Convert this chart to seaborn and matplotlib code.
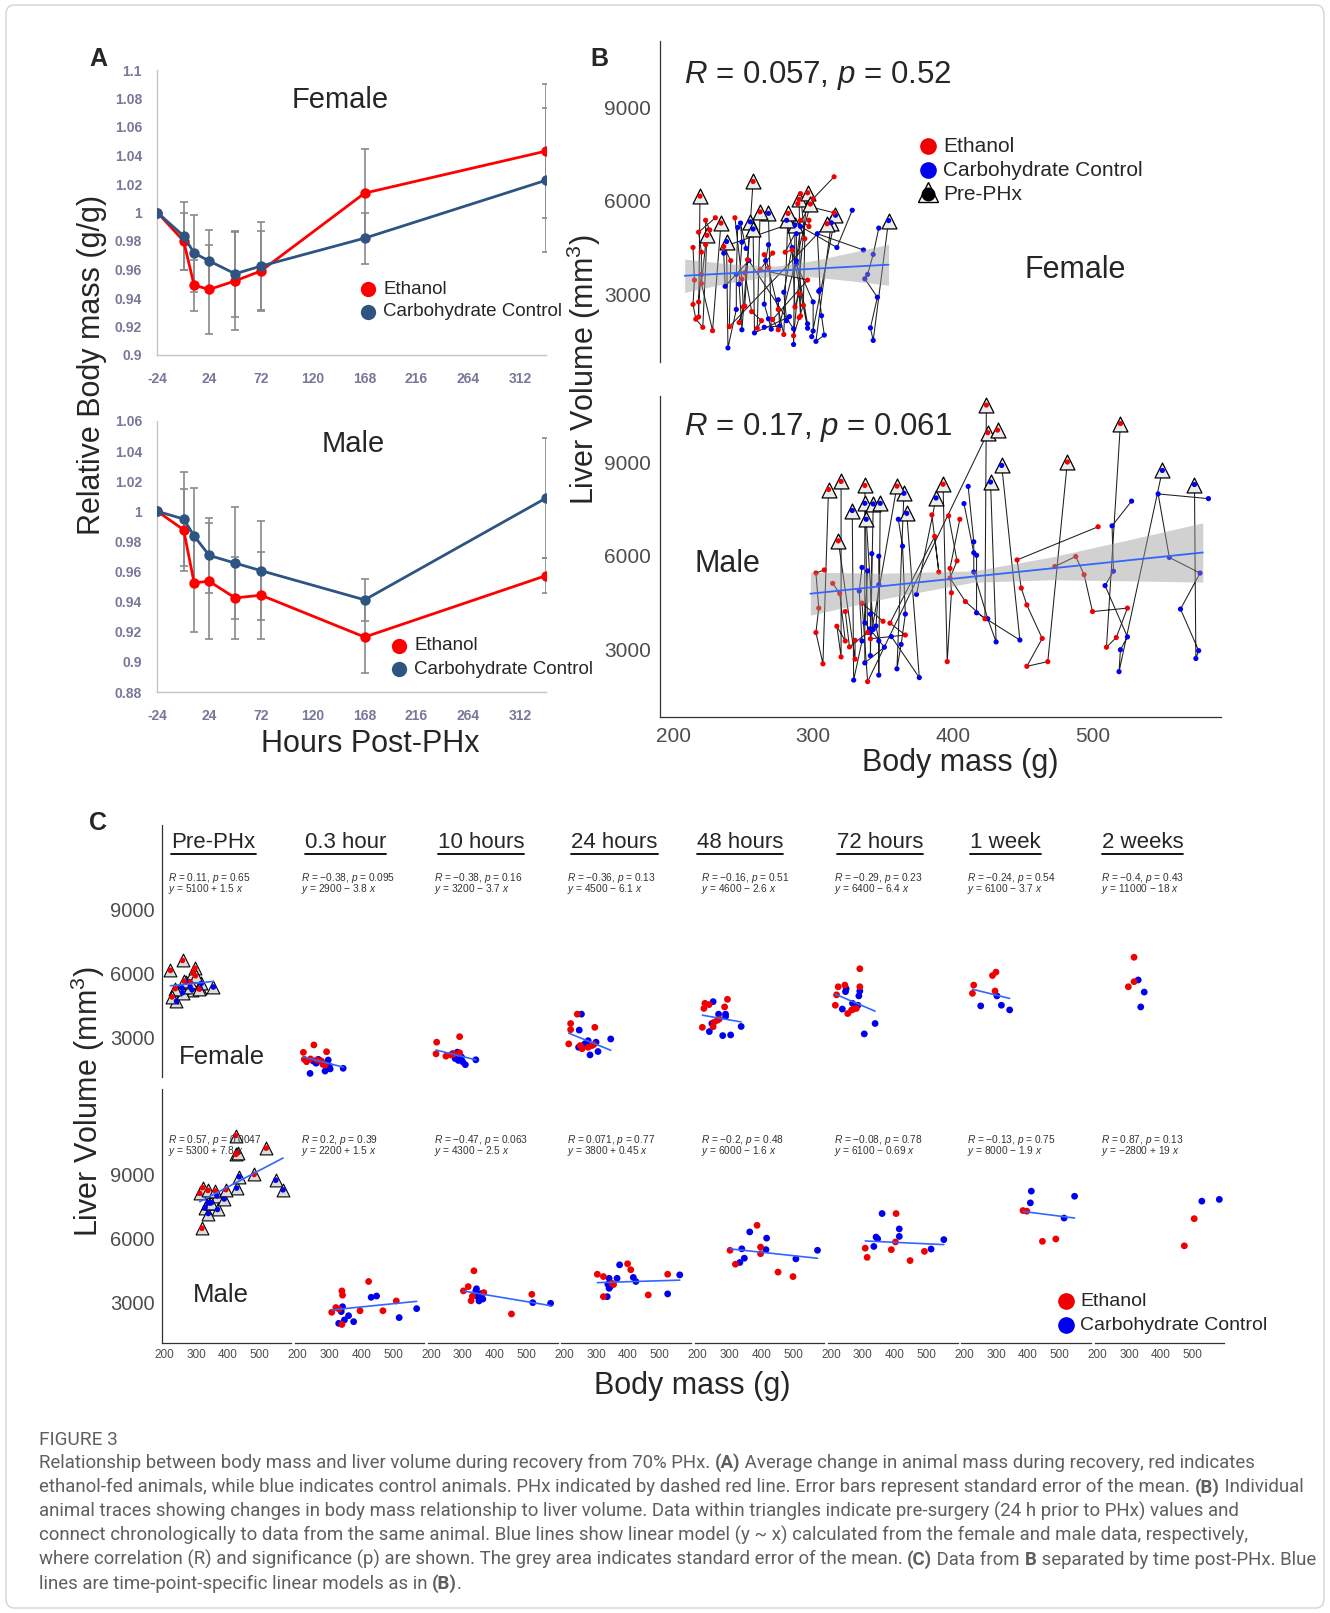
import numpy as np
import pandas as pd
import matplotlib
matplotlib.use('Agg')
import matplotlib.pyplot as plt
import seaborn as sns
from matplotlib.lines import Line2D
from matplotlib.patches import FancyBboxPatch

# ---------------- Panel A data (relative body mass, mean and SEM) ----------------
hours = [-24, 0.3, 10, 24, 48, 72, 168, 336]
fA_eth = [1.0, 0.980, 0.949, 0.946, 0.952, 0.959, 1.0136, 1.0431]
fA_eth_se = [0, 0.020, 0.018, 0.031, 0.0345, 0.028, 0.031, 0.047]
fA_con = [1.0, 0.9835, 0.9715, 0.966, 0.957, 0.9624, 0.982, 1.0226]
fA_con_se = [0, 0.0237, 0.027, 0.022, 0.030, 0.0306, 0.018, 0.0505]
mA_eth = [1.0, 0.9877, 0.9526, 0.9535, 0.9425, 0.9443, 0.9165, 0.9573]
mA_eth_se = [0, 0.027, 0.0326, 0.0385, 0.0275, 0.029, 0.024, 0.0115]
mA_con = [1.0, 0.9949, 0.9837, 0.9707, 0.9656, 0.9606, 0.9412, 1.0088]
mA_con_se = [0, 0.031, 0.032, 0.0252, 0.037, 0.033, 0.014, 0.040]

# ---------------- Panel B / C data (body mass g, liver volume mm3) ----------------
time_labels = ['Pre-PHx', '0.3 hour', '10 hours', '24 hours', '48 hours', '72 hours', '1 week', '2 weeks']

fe_eth_x = [[219, 257, 234, 224, 262, 282, 290, 296, 298, 310],
            [218, 251, 291, 221, 228, 260, 275, 279, 286, 240],
            [218, 290, 216, 247, 263, 271, 290],
            [214, 220, 220, 241, 296, 250, 256, 275, 287, 293],
            [223, 220, 236, 294, 285, 215, 249, 251, 268, 262],
            [291, 223, 244, 291, 214, 218, 253, 265, 271, 280],
            [230, 226, 289, 300, 297],
            [315, 315, 297]]
fe_eth_y = [[6150, 6620, 5290, 4900, 5650, 5600, 6050, 6260, 5900, 5270],
            [2290, 2640, 2320, 1960, 1850, 1930, 1880, 1730, 1690, 1980],
            [2770, 3030, 2220, 2110, 2170, 2210, 2270],
            [2690, 3650, 3360, 4090, 3470, 2610, 2460, 2530, 2610, 2660],
            [4600, 4360, 4540, 4790, 4430, 3470, 3500, 3700, 3860, 3800],
            [6230, 5380, 5460, 5380, 4510, 5000, 4120, 4280, 4330, 4360],
            [5460, 5070, 5910, 6070, 5180],
            [6770, 5620, 5380]]
fe_con_x = [[238, 268, 255, 257, 281, 287, 313, 316, 354],
            [249, 239, 286, 296, 299, 302, 343, 265, 270, 258],
            [283, 286, 308, 341, 296, 268, 300, 276],
            [254, 247, 275, 300, 346, 245, 281, 306, 265],
            [249, 266, 288, 288, 245, 237, 279, 304, 337],
            [248, 246, 291, 288, 268, 285, 236, 339, 305],
            [252, 303, 317, 343],
            [328, 347, 336]]
fe_con_y = [[4700, 5600, 5330, 5100, 5380, 5230, 5300, 5540, 5370],
            [1880, 1300, 1410, 1930, 1660, 1510, 1540, 1960, 1900, 1780],
            [2300, 1910, 1710, 1940, 2070, 2230, 1840, 2000],
            [4090, 3340, 2840, 2770, 2920, 2530, 2170, 2330, 2700],
            [4680, 4090, 4090, 3980, 3650, 3270, 3080, 3110, 3510],
            [5290, 5150, 5180, 4950, 4600, 4510, 4330, 3650, 3160],
            [4480, 4950, 4510, 4290],
            [5700, 5130, 4430]]
ma_eth_x = [[311, 320, 337, 360, 393, 424, 425, 432, 482, 520, 318],
            [307, 320, 341, 339, 423, 396, 468, 510, 339, 330],
            [302, 317, 335, 326, 366, 453, 517, 330],
            [304, 323, 323, 350, 399, 409, 464, 525, 355],
            [302, 319, 387, 398, 398, 453, 500],
            [308, 314, 390, 403, 405, 449, 494],
            [385, 397, 446, 488],
            [473, 504]]
ma_eth_y = [[8120, 8380, 8250, 8230, 8290, 10820, 9940, 10020, 9000, 10230, 6480],
            [2550, 2770, 3350, 3550, 3990, 2620, 2620, 3080, 1980, 2700],
            [3550, 3750, 4490, 3090, 3470, 2470, 3390, 3300],
            [4330, 4220, 3280, 3910, 4820, 4540, 3360, 4330, 3850],
            [5450, 4800, 6620, 5600, 5290, 4430, 4220],
            [5550, 5120, 5480, 5840, 7170, 4970, 5400],
            [7310, 7280, 5870, 5980],
            [5660, 6930]]
ma_con_x = [[328, 337, 338, 343, 348, 365, 367, 388, 427, 435, 550, 573],
            [329, 337, 341, 347, 360, 376, 431, 448, 519, 574],
            [341, 347, 351, 363, 520, 576, 356, 343],
            [374, 366, 341, 337, 341, 335, 417, 425, 525, 563, 345],
            [339, 333, 347, 364, 417, 415, 509, 577],
            [361, 342, 347, 335, 415, 415, 515, 555],
            [411, 408, 514, 547],
            [528, 583]]
ma_con_y = [[7450, 7680, 7170, 7660, 7680, 8000, 7360, 7850, 8360, 8890, 8730, 8280],
            [2030, 2580, 2810, 2190, 2390, 2110, 3250, 3310, 2300, 2720],
            [3550, 3280, 3080, 3170, 3000, 2970, 3420, 3650],
            [4770, 4140, 4140, 3860, 3670, 3280, 4180, 3990, 3410, 4300, 3760],
            [5520, 4880, 5080, 6310, 6020, 5480, 5050, 5450],
            [7170, 6070, 5990, 5630, 6450, 6100, 5510, 5950],
            [8220, 7670, 6960, 7980],
            [7750, 7830]]

# pooled linear model (panel B)
fe_fit_x = [208, 354]
fe_fit_y = [3607, 3960]
fe_band_x = [208, 240, 273, 300, 330, 354]
fe_band_lo = [3075, 3385, 3614, 3570, 3430, 3305]
fe_band_hi = [4140, 3985, 3914, 4090, 4375, 4615]
ma_fit_x = [298, 579]
ma_fit_y = [4791, 6108]
ma_band_x = [298, 350, 415, 470, 530, 579]
ma_band_lo = [4105, 4626, 5159, 5236, 5201, 5160]
ma_band_hi = [5477, 5444, 5519, 5958, 6555, 7056]
B_stats = [('0.057', '0.52'), ('0.17', '0.061')]

# time-point-specific models (panel C)
fe_R = [0.11, -0.38, -0.38, -0.36, -0.16, -0.29, -0.24, -0.4]
fe_p = [0.65, 0.095, 0.16, 0.13, 0.51, 0.23, 0.54, 0.43]
fe_a = [5100, 2900, 3200, 4500, 4600, 6400, 6100, 11000]
fe_b = [1.5, -3.8, -3.7, -6.1, -2.6, -6.4, -3.7, -18]
ma_R = [0.57, 0.2, -0.47, 0.071, -0.2, -0.08, -0.13, 0.87]
ma_p = [0.0047, 0.39, 0.063, 0.77, 0.48, 0.78, 0.75, 0.13]
ma_a = [5300, 2200, 4300, 3800, 6000, 6100, 8000, -2800]
ma_b = [7.8, 1.5, -2.5, 0.45, -1.6, -0.69, -1.9, 19]

# ---------------- setup ----------------
W, H = 1330, 1613
sns.set_style('white')
plt.rcParams['font.family'] = ['Liberation Sans', 'DejaVu Sans']
plt.rcParams['mathtext.fontset'] = 'custom'
plt.rcParams['mathtext.rm'] = 'Liberation Sans'
plt.rcParams['mathtext.it'] = 'Liberation Sans:italic'
plt.rcParams['mathtext.bf'] = 'Liberation Sans:bold'
plt.rcParams['axes.unicode_minus'] = False

RED = '#ff0000'
NAVY = '#2e5582'
DRED = '#f00000'
DBLUE = '#0000f0'
FITC = '#3366ff'

fig = plt.figure(figsize=(W / 100, H / 100), dpi=100)
fig.patch.set_facecolor('white')
fig.add_artist(FancyBboxPatch((6 / W, 5 / H), 1 - 12 / W, 1 - 10 / H,
                              boxstyle='round,pad=0,rounding_size=0.006',
                              transform=fig.transFigure, facecolor='none',
                              edgecolor='#d4d4d4', lw=1.0))


def box(l, t, r, b):
    return fig.add_axes([l / W, 1 - b / H, (r - l) / W, (b - t) / H])


def ftext(x, y, s, **kw):
    return fig.text(x / W, 1 - y / H, s, **kw)


def fmarker(x, y, **kw):
    fig.add_artist(Line2D([x / W], [1 - y / H], transform=fig.transFigure, linestyle='none', **kw))


# ---------------- Panel A ----------------
def panel_A(ax, eth, eth_se, con, con_se, ylim, yticks):
    for vals, se in ((eth, eth_se), (con, con_se)):
        ax.errorbar(hours[1:], vals[1:], yerr=se[1:], fmt='none', ecolor='#8a8a8a',
                    elinewidth=1.2, capsize=3.2, capthick=1.2, zorder=2)
    dfa = pd.DataFrame({'h': hours * 2, 'v': list(eth) + list(con),
                        'g': ['Ethanol'] * len(hours) + ['Control'] * len(hours)})
    sns.lineplot(data=dfa, x='h', y='v', hue='g', hue_order=['Ethanol', 'Control'],
                 palette={'Ethanol': RED, 'Control': NAVY}, marker='o', markersize=7.5,
                 markeredgewidth=0, linewidth=2.0, ax=ax, legend=False, sort=False, zorder=3)
    ax.set_xlim(-24, 336)
    ax.set_ylim(*ylim)
    ax.set_xticks(list(range(-24, 313, 48)))
    ax.set_yticks(yticks)
    ax.set_yticklabels(['{:g}'.format(round(v, 2)) for v in yticks])
    for s in ('top', 'right'):
        ax.spines[s].set_visible(False)
    for s in ('left', 'bottom'):
        ax.spines[s].set_color('#c4c4c4')
        ax.spines[s].set_linewidth(1.0)
    ax.tick_params(axis='x', direction='inout', length=8, width=1, color='#c4c4c4', pad=8,
                   labelsize=10, labelcolor='#77779a')
    ax.tick_params(axis='y', direction='out', length=5, width=1, color='#c4c4c4', pad=6,
                   labelsize=10, labelcolor='#77779a')
    for lab in ax.get_xticklabels() + ax.get_yticklabels():
        lab.set_fontweight('bold')
    ax.set_xlabel('')
    ax.set_ylabel('')
    ax.set_facecolor('none')


axA1 = box(157.4, 70, 546, 355)
panel_A(axA1, fA_eth, fA_eth_se, fA_con, fA_con_se, (0.9, 1.1), list(np.arange(0.9, 1.1001, 0.02)))
axA2 = box(157.4, 421, 546, 692)
panel_A(axA2, mA_eth, mA_eth_se, mA_con, mA_con_se, (0.88, 1.06), list(np.arange(0.88, 1.0601, 0.02)))

ftext(98, 59, 'A', fontsize=18, fontweight='bold', ha='center', va='center')
ftext(340, 100, 'Female', fontsize=21, ha='center', va='center')
ftext(353, 444, 'Male', fontsize=21, ha='center', va='center')
ftext(92, 365, 'Relative Body mass (g/g)', fontsize=22, rotation=90, ha='center', va='center')
ftext(370, 744, 'Hours Post-PHx', fontsize=22, ha='center', va='center')
for (mx, my0) in ((368, 289), (399, 646)):
    fmarker(mx, my0, marker='o', markersize=11, color=RED, markeredgewidth=0)
    fmarker(mx, my0 + 23, marker='o', markersize=11, color=NAVY, markeredgewidth=0)
    ftext(mx + 15, my0, 'Ethanol', fontsize=13.5, ha='left', va='center')
    ftext(mx + 15, my0 + 23, 'Carbohydrate Control', fontsize=13.5, ha='left', va='center')

# ---------------- build long table, link each point to an animal trace ----------------
rows = []
for sex, ex, ey, cx, cy in (('F', fe_eth_x, fe_eth_y, fe_con_x, fe_con_y),
                            ('M', ma_eth_x, ma_eth_y, ma_con_x, ma_con_y)):
    for grp, xs_all, ys_all in (('Ethanol', ex, ey), ('Control', cx, cy)):
        last_mass = {}
        for ti in range(len(time_labels)):
            xs, ys = xs_all[ti], ys_all[ti]
            pairs = sorted(((abs(xs[j] - m), j, a) for j in range(len(xs))
                            for a, m in last_mass.items()))
            used_p, used_a, assign = set(), set(), {}
            for dist, j, a in pairs:
                if j in used_p or a in used_a:
                    continue
                assign[j] = a
                used_p.add(j)
                used_a.add(a)
            for j in range(len(xs)):
                if j not in assign:
                    assign[j] = f'{sex}-{grp}-{len(last_mass) + j}-{ti}'
                a = assign[j]
                last_mass[a] = xs[j]
                rows.append(dict(sex=sex, t=ti, group=grp, mass=xs[j], vol=ys[j], animal=a))
df = pd.DataFrame(rows).sort_values(['animal', 't']).reset_index(drop=True)
pal = {'Ethanol': DRED, 'Control': DBLUE}


# ---------------- Panel B ----------------
def style_B(ax, show_x):
    ax.set_xlim(190, 592)
    ax.set_ylim(850, 11110)
    ax.set_yticks([3000, 6000, 9000])
    for s in ('top', 'right'):
        ax.spines[s].set_visible(False)
    ax.spines['left'].set_color('#333333')
    ax.spines['left'].set_linewidth(0.9)
    ax.tick_params(axis='y', direction='out', length=4, width=0.9, color='#333333', pad=2,
                   labelsize=15, labelcolor='#4d4d4d')
    if show_x:
        ax.spines['bottom'].set_color('#333333')
        ax.spines['bottom'].set_linewidth(0.9)
        ax.set_xticks([200, 300, 400, 500])
        ax.tick_params(axis='x', direction='out', length=4, width=0.9, color='#333333', pad=3,
                       labelsize=15, labelcolor='#4d4d4d')
    else:
        ax.spines['bottom'].set_visible(False)
        ax.set_xticks([])
    ax.set_xlabel('')
    ax.set_ylabel('')
    ax.set_facecolor('none')


for sex, (t, b), fx, fy, bx, blo, bhi, stat in (
        ('F', (41, 362), fe_fit_x, fe_fit_y, fe_band_x, fe_band_lo, fe_band_hi, B_stats[0]),
        ('M', (396, 717), ma_fit_x, ma_fit_y, ma_band_x, ma_band_lo, ma_band_hi, B_stats[1])):
    ax = box(659.5, t, 1221, b)
    d = df[df.sex == sex]
    sns.lineplot(data=d, x='mass', y='vol', units='animal', estimator=None, sort=False,
                 color='#1e1e1e', linewidth=0.75, ax=ax, legend=False, zorder=1)
    dpre = d[d.t == 0]
    sns.scatterplot(data=dpre, x='mass', y='vol', marker='^', s=115, color='#ececec',
                    edgecolor='black', linewidth=0.9, ax=ax, legend=False, zorder=2)
    sns.scatterplot(data=d, x='mass', y='vol', hue='group', palette=pal, s=14,
                    edgecolor='none', ax=ax, legend=False, zorder=3)
    ax.fill_between(bx, blo, bhi, color='#999999', alpha=0.45, linewidth=0, zorder=4)
    ax.plot(fx, fy, color=FITC, lw=1.3, zorder=5)
    style_B(ax, sex == 'M')
    ytxt = 75 if sex == 'F' else 428
    ftext(684, ytxt, f'$R$ = {stat[0]}, $p$ = {stat[1]}', fontsize=22.5, ha='left', va='center')

ftext(599, 59, 'B', fontsize=18, fontweight='bold', ha='center', va='center')
ftext(1075, 270, 'Female', fontsize=22, ha='center', va='center')
ftext(727, 564, 'Male', fontsize=22, ha='center', va='center')
ftext(584, 370, 'Liver Volume (mm$^3$)', fontsize=22, rotation=90, ha='center', va='center')
ftext(960, 763, 'Body mass (g)', fontsize=22, ha='center', va='center')
fmarker(928, 146, marker='o', markersize=12, color=DRED, markeredgewidth=0)
fmarker(928, 170, marker='o', markersize=12, color=DBLUE, markeredgewidth=0)
fmarker(928, 192, marker='^', markersize=15, markerfacecolor='white', markeredgecolor='black',
        markeredgewidth=1.0)
fmarker(928, 194, marker='o', markersize=10, color='black', markeredgewidth=0)
for i, s in enumerate(['Ethanol', 'Carbohydrate Control', 'Pre-PHx']):
    ftext(943, 146 + 24 * i, s, fontsize=15, ha='left', va='center')

# ---------------- Panel C ----------------
pitch = 133.3
fw = 129.5
c_left0 = 161.5
row_box = {'F': (825, 1077), 'M': (1089, 1342.6)}
stats = {'F': (fe_R, fe_p, fe_a, fe_b), 'M': (ma_R, ma_p, ma_a, ma_b)}


def fnum(v):
    s = '{:g}'.format(v)
    return s.replace('-', '\u2212')


for sex in ('F', 'M'):
    t, b = row_box[sex]
    Rs, ps, As, Bs = stats[sex]
    for k in range(len(time_labels)):
        l = c_left0 + pitch * k
        ax = box(l, t, l + fw, b)
        d = df[(df.sex == sex) & (df.t == k)]
        if k == 0:
            sns.scatterplot(data=d, x='mass', y='vol', marker='^', s=85, color='#dcdcdc',
                            edgecolor='black', linewidth=0.8, ax=ax, legend=False, zorder=2)
            sns.scatterplot(data=d, x='mass', y='vol', hue='group', palette=pal, s=16,
                            edgecolor='none', ax=ax, legend=False, zorder=3)
        else:
            sns.scatterplot(data=d, x='mass', y='vol', hue='group', palette=pal, s=24,
                            edgecolor='none', ax=ax, legend=False, zorder=3)
        if k < 7:
            xs = np.array([d.mass.min(), d.mass.max()], dtype=float)
            ax.plot(xs, As[k] + Bs[k] * xs, color=FITC, lw=1.2, zorder=4)
        ax.set_xlim(191, 598)
        ax.set_ylim(1130, 13000)
        ax.set_xlabel('')
        ax.set_ylabel('')
        ax.set_facecolor('none')
        for s in ('top', 'right'):
            ax.spines[s].set_visible(False)
        if k == 0:
            ax.spines['left'].set_color('#333333')
            ax.spines['left'].set_linewidth(0.9)
            ax.set_yticks([3000, 6000, 9000])
            ax.tick_params(axis='y', direction='out', length=4, width=0.9, color='#333333',
                           pad=1, labelsize=14.5, labelcolor='#4d4d4d')
        else:
            ax.spines['left'].set_visible(False)
            ax.set_yticks([])
        if sex == 'M':
            ax.spines['bottom'].set_color('#333333')
            ax.spines['bottom'].set_linewidth(0.9)
            ax.set_xticks([200, 300, 400, 500])
            ax.tick_params(axis='x', direction='out', length=3, width=0.8, color='#333333',
                           pad=1.5, labelsize=8.5, labelcolor='#4d4d4d')
        else:
            ax.spines['bottom'].set_visible(False)
            ax.set_xticks([])
        y1 = 878 if sex == 'F' else 1140
        ftext(l + 6, y1, f'$R$ = {fnum(Rs[k])}, $p$ = {fnum(ps[k])}', fontsize=7.3,
              color='#333333', ha='left', va='center')
        sign = '+' if Bs[k] >= 0 else '\u2212'
        ftext(l + 6, y1 + 11.5, f'$y$ = {fnum(As[k])} {sign} {fnum(abs(Bs[k]))} $x$',
              fontsize=7.3, color='#333333', ha='left', va='center')

renderer = fig.canvas.get_renderer()
title_off = [52, 51, 53, 53, 45, 52, 44, 48]
for k, lab in enumerate(time_labels):
    cx = c_left0 + pitch * k + title_off[k]
    tt = ftext(cx, 842, lab, fontsize=16, ha='center', va='center')
    bb = tt.get_window_extent(renderer)
    fig.add_artist(Line2D([bb.x0 / W, bb.x1 / W], [(bb.y0 - 1.5) / H, (bb.y0 - 1.5) / H],
                          transform=fig.transFigure, color='black', lw=1.3))

ftext(98, 823, 'C', fontsize=18, fontweight='bold', ha='center', va='center')
ftext(222, 1057, 'Female', fontsize=18.5, ha='center', va='center')
ftext(221, 1295, 'Male', fontsize=18.5, ha='center', va='center')
ftext(88, 1102, 'Liver Volume (mm$^3$)', fontsize=22, rotation=90, ha='center', va='center')
ftext(692, 1386, 'Body mass (g)', fontsize=22, ha='center', va='center')
fmarker(1066, 1301, marker='o', markersize=12, color=DRED, markeredgewidth=0)
fmarker(1066, 1325, marker='o', markersize=12, color=DBLUE, markeredgewidth=0)
ftext(1080, 1301, 'Ethanol', fontsize=14, ha='left', va='center')
ftext(1080, 1325, 'Carbohydrate Control', fontsize=14, ha='left', va='center')

# ---------------- Caption ----------------
cap_lines = [
    [('Relationship between body mass and liver volume during recovery from 70% PHx. ', False),
     ('(A)', True), (' Average change in animal mass during recovery, red indicates', False)],
    [('ethanol-fed animals, while blue indicates control animals. PHx indicated by dashed red line. '
      'Error bars represent standard error of the mean. ', False), ('(B)', True), (' Individual', False)],
    [('animal traces showing changes in body mass relationship to liver volume. Data within triangles '
      'indicate pre-surgery (24 h prior to PHx) values and', False)],
    [('connect chronologically to data from the same animal. Blue lines show linear model (y ~ x) '
      'calculated from the female and male data, respectively,', False)],
    [('where correlation (R) and significance (p) are shown. The grey area indicates standard error '
      'of the mean. ', False), ('(C)', True), (' Data from ', False), ('B', True),
     (' separated by time post-PHx. Blue', False)],
    [('lines are time-point-specific linear models as in ', False), ('(B)', True), ('.', False)],
]
CAPF = ['Roboto', 'DejaVu Sans']
CAPC = '#5f5f5f'


def seg_width(s, size, bold):
    t1 = fig.text(0, 0, 'X' + s + 'X', fontsize=size, family=CAPF,
                  fontweight='bold' if bold else 'normal')
    t2 = fig.text(0, 0, 'XX', fontsize=size, family=CAPF, fontweight='bold' if bold else 'normal')
    w = t1.get_window_extent(renderer).width - t2.get_window_extent(renderer).width
    t1.remove()
    t2.remove()
    return w


base = 12.0
wline = sum(seg_width(s, base, bd) for s, bd in cap_lines[1])
cap_size = base * 1259.0 / wline

ftext(39, 1445, 'FIGURE 3', fontsize=cap_size * 1.02, family=CAPF, color=CAPC,
      ha='left', va='baseline')
y_base = [1468, 1492.5, 1517, 1541, 1565, 1589]
for yb, segs in zip(y_base, cap_lines):
    x = 39.0
    for s, bd in segs:
        ftext(x, yb, s, fontsize=cap_size, family=CAPF, color=CAPC,
              fontweight='bold' if bd else 'normal', ha='left', va='baseline')
        x += seg_width(s, cap_size, bd)

fig.savefig('out.png', dpi=100)
